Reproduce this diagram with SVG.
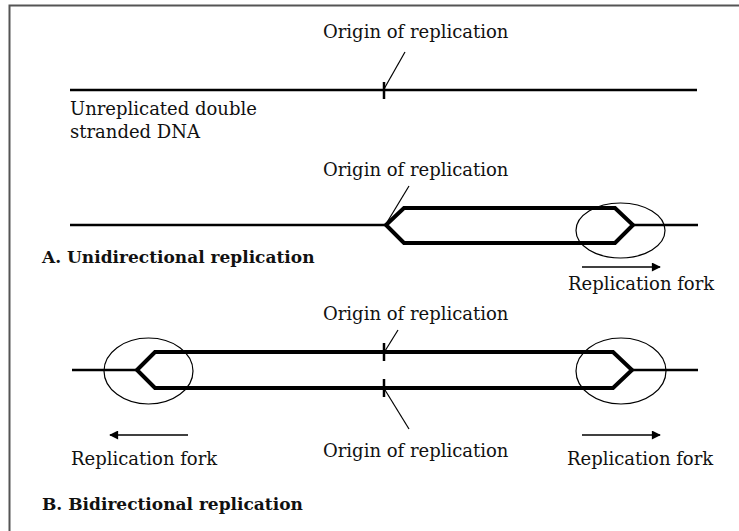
<svg xmlns="http://www.w3.org/2000/svg" width="739" height="531" viewBox="0 0 739 531">
<defs>
<style>
.t{font-family:"DejaVu Serif","Liberation Serif",serif;font-size:18px;fill:#111}
.b{font-family:"DejaVu Serif","Liberation Serif",serif;font-size:17px;font-weight:bold;fill:#111}
.dna{fill:none;stroke:#000;stroke-width:2.5}
.strand{fill:none;stroke:#000;stroke-width:4;stroke-linejoin:miter}
.lead{fill:none;stroke:#000;stroke-width:1.2}
.tick{stroke:#000;stroke-width:2.5}
.fork{fill:none;stroke:#000;stroke-width:1.2}
.arr{fill:none;stroke:#000;stroke-width:1.5}
</style>
<marker id="ah" viewBox="0 0 10 10" refX="9" refY="5" markerWidth="14" markerHeight="9" markerUnits="userSpaceOnUse" orient="auto">
<path d="M0,0L10,5L0,10z" fill="#000"/>
</marker>
</defs>
<rect width="739" height="531" fill="#fff"/>
<g id="frame">
<path d="M9.5,531V5.5H739" fill="none" stroke="#555" stroke-width="2"/>
</g>
<g id="connectors">
<line class="lead" x1="384" y1="89" x2="405" y2="52"/>
<line class="lead" x1="386" y1="224" x2="409" y2="186"/>
<line class="lead" x1="385" y1="351" x2="398" y2="330"/>
<line class="lead" x1="385" y1="390" x2="409" y2="429"/>
<line class="arr" x1="582" y1="267" x2="660" y2="267" marker-end="url(#ah)"/>
<line class="arr" x1="188" y1="435" x2="110" y2="435" marker-end="url(#ah)"/>
<line class="arr" x1="582" y1="435" x2="660" y2="435" marker-end="url(#ah)"/>
</g>
<g id="row1">
<line class="dna" x1="70" y1="90" x2="697" y2="90"/>
<line class="tick" x1="384" y1="82" x2="384" y2="99"/>
<text class="t" x="323" y="38">Origin of replication</text>
<text class="t" x="70" y="115">Unreplicated double</text>
<text class="t" x="70" y="138">stranded DNA</text>
</g>
<g id="rowA">
<line class="dna" x1="70" y1="225" x2="386" y2="225"/>
<path class="strand" d="M386,225L404,208H615L633,225L615,243H404Z"/>
<line class="dna" x1="633" y1="225" x2="698" y2="225"/>
<ellipse class="fork" cx="620.5" cy="230.5" rx="44.5" ry="27.5"/>
<text class="t" x="323" y="176">Origin of replication</text>
<text class="t" x="568" y="290">Replication fork</text>
<text class="b" x="42" y="263">A. Unidirectional replication</text>
</g>
<g id="rowB">
<line class="dna" x1="72" y1="370" x2="137" y2="370"/>
<path class="strand" d="M137,370L155,352H613L632,370L613,388H155Z"/>
<line class="dna" x1="632" y1="370" x2="698" y2="370"/>
<line class="tick" x1="384" y1="343" x2="384" y2="361"/>
<line class="tick" x1="384" y1="379" x2="384" y2="397"/>
<ellipse class="fork" cx="148.5" cy="371" rx="44.5" ry="33"/>
<ellipse class="fork" cx="621" cy="371" rx="45" ry="33"/>
<text class="t" x="323" y="320">Origin of replication</text>
<text class="t" x="323" y="457">Origin of replication</text>
<text class="t" x="71" y="465">Replication fork</text>
<text class="t" x="567" y="465">Replication fork</text>
<text class="b" x="42" y="510">B. Bidirectional replication</text>
</g>
</svg>
